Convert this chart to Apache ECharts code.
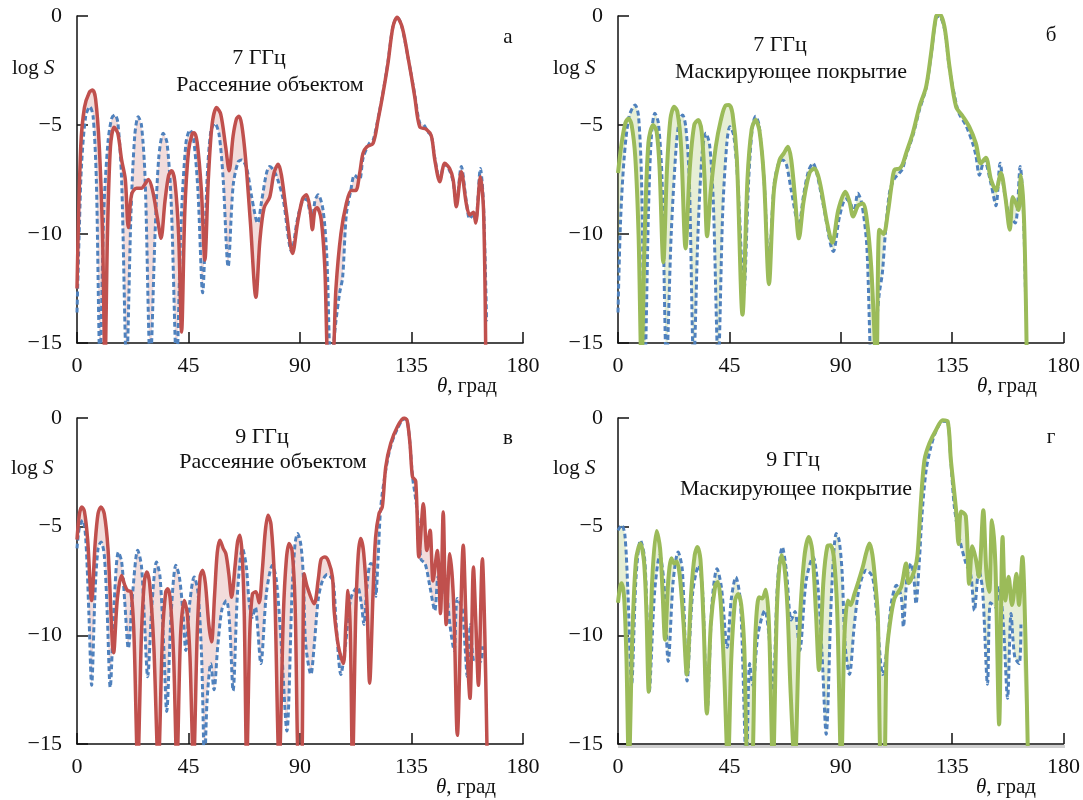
<!DOCTYPE html>
<html>
<head>
<meta charset="utf-8">
<script src="https://cdn.jsdelivr.net/npm/echarts@6/dist/echarts.min.js"></script>
<style>html,body{margin:0;padding:0;background:#fff}#c{width:1083px;height:800px}</style>
</head>
<body>
<div id="c"></div>
<script>
// ---- data: [theta (deg), log S] ----
const xTicks = [0, 45, 90, 135, 180];
const yTicks = [-15, -10, -5, 0];

// panel а : 7 GHz, scattering by object
const aBlue = [[0,-13.6],[1,-9.5],[1.8,-6.9],[3.5,-4.6],[5.2,-4.16],[6.5,-4.6],[7.8,-7.5],[9.3,-16],[10.8,-9],[12.5,-5.8],[14,-4.7],[15.3,-4.54],[16.5,-4.9],[18,-7.5],[20,-16],[21.8,-9],[23.3,-5.5],[24.7,-4.62],[26,-5.0],[27.5,-7.5],[29.6,-16],[31.5,-10],[33,-6.5],[34.8,-5.38],[36.3,-5.8],[38,-8.5],[40.2,-16],[42,-9.5],[44,-5.8],[45.6,-5.23],[47,-5.6],[48.8,-8],[50.7,-12.7],[52.5,-7.5],[54,-5.3],[55.6,-4.92],[57.3,-5.4],[59,-7.5],[61,-11.5],[63,-7.8],[65,-6.7],[66.5,-6.6],[68.5,-7],[70.5,-8.3],[72.9,-9.5],[74.5,-8.5],[76.5,-7.2],[77.8,-6.9],[79.5,-7.1],[81,-7.5],[83.2,-8.4],[86.6,-10.8],[89,-9.3],[91,-8.5],[92.6,-8.4],[94,-9],[95,-9.4],[96,-8.5],[97.3,-8.2],[99.3,-8.9],[100.8,-11],[102.5,-16],[104.5,-14],[106,-12.7],[107.2,-12],[108.7,-9.1],[110.5,-8],[112,-7.3],[114,-7.5],[115.5,-6.5],[118,-5.84],[119.5,-5.7],[121.5,-4.7],[123.5,-3.5],[125.5,-2.1],[127.5,-0.5],[129.2,-0.06],[130.9,-0.4],[133.6,-1.9],[136.3,-3.6],[138.3,-4.9],[140,-5.0],[141.5,-5.3],[143,-5.5],[144.4,-6.5],[146.4,-7.5],[148.4,-6.8],[150.4,-7.1],[151.8,-7.6],[153.1,-8.6],[155.1,-6.9],[157.1,-8.5],[158.5,-9.3],[160,-9.1],[160.9,-9.4],[162.8,-7.0],[164,-8.5],[165.3,-14]];
const aRed = [[0,-12.5],[1.5,-6],[3,-4.2],[5,-3.5],[6.3,-3.4],[7.5,-3.8],[9,-6],[10.3,-10],[11.3,-16],[12.3,-10],[13.5,-6],[15,-5.1],[16.5,-5.4],[18,-6.6],[19.5,-7.5],[20.7,-9.7],[22,-8.2],[24,-7.9],[26,-7.9],[27.5,-7.7],[28.8,-7.5],[30.5,-8],[32.5,-9.3],[33.9,-10.2],[35.5,-8.5],[37,-7.3],[38.2,-7.1],[39.5,-7.6],[41,-10],[42.2,-14.5],[43.5,-9],[45,-6.2],[46.5,-5.4],[47.3,-5.35],[48.5,-5.8],[50.2,-8],[51.6,-11.2],[53,-7.5],[54.5,-5],[56.3,-4.2],[58,-4.5],[60,-6],[61.4,-7.1],[63,-5.5],[64.4,-4.7],[65.4,-4.6],[66.5,-5],[68,-6.5],[70,-9.5],[72.2,-12.9],[73.8,-10.3],[75.5,-8.8],[77.8,-8.3],[79.5,-7.2],[81.2,-6.8],[82.5,-7.3],[84.5,-9],[87,-10.9],[89,-9.5],[91,-8.4],[92.6,-8.2],[94,-8.8],[95,-9.8],[96,-8.9],[96.9,-8.8],[98.5,-9.3],[100,-11.5],[101.5,-16],[103,-16],[104.5,-12.5],[106.5,-10],[108.7,-8.6],[110.7,-8],[112.5,-8],[114.1,-7.2],[115.4,-6.3],[117,-6],[119.5,-5.84],[121.5,-4.77],[123.5,-3.55],[125.5,-2.17],[127.5,-0.5],[129.2,-0.06],[130.9,-0.4],[132.2,-1],[133.6,-1.9],[135,-2.8],[136.3,-3.7],[138.3,-5.08],[141,-5.2],[143,-5.5],[144.4,-6.6],[146.4,-7.6],[148.4,-6.76],[150.4,-7.0],[151.8,-7.5],[153.1,-8.75],[155.1,-7.14],[157.1,-8.6],[158.5,-9.13],[160,-9.0],[160.9,-9.5],[162.8,-7.37],[164.1,-9],[165,-16]];

// panel б : 7 GHz, cloaking coating
const bBlue = [[0,-13.6],[1,-9.5],[2.5,-6.5],[4.5,-4.6],[6.9,-4.08],[8.3,-4.6],[9.5,-7.5],[10.9,-16],[12.3,-9],[13.5,-5.5],[14.9,-4.46],[16.3,-4.9],[17.8,-7.5],[19.6,-16],[21.5,-10],[23.5,-6],[24.8,-4.8],[26.1,-4.54],[27.4,-5.1],[28.8,-7.5],[30.6,-16],[32.3,-10],[34,-6.3],[35.5,-5.38],[37,-5.9],[38.5,-8.5],[40.5,-16],[42.3,-9],[44,-5.8],[45.2,-5.08],[46.8,-5.5],[48.6,-8],[50.8,-12.7],[52.8,-7.5],[54.3,-5.1],[55.6,-4.6],[57,-5],[59,-7.5],[61,-11.5],[63,-7.8],[65,-6.7],[66.5,-6.6],[68,-6.8],[70,-8],[73,-9.6],[75,-8.2],[77,-7.1],[78.8,-6.76],[80.5,-7.3],[83,-8.7],[87,-10.8],[89.5,-9.2],[92,-8.4],[94,-8.6],[95.3,-9.1],[96.9,-8.13],[98.5,-8.6],[100.5,-10.5],[102.5,-16],[104.5,-14],[105.6,-12.7],[106.8,-11.8],[108,-10],[109.7,-8.1],[111.5,-7.5],[113.7,-7.2],[115,-7.0],[116.4,-6.4],[119.1,-5.5],[121.8,-4.3],[124.5,-3.3],[126.5,-1.8],[128.5,-0.1],[129.8,0.0],[131.9,-0.6],[133.9,-2.4],[136.6,-4.0],[137.9,-4.5],[140.5,-5.0],[143.3,-5.84],[144.6,-6.4],[146,-7.3],[148,-6.6],[150.7,-7.7],[152.7,-8.7],[154.4,-6.76],[156,-8.0],[157.8,-9.0],[160.5,-9.5],[162.5,-6.9],[163.8,-9],[164.8,-13.6]];
const bGreen = [[0,-7.2],[1.5,-5.8],[3,-4.9],[4.2,-4.7],[5.5,-5.0],[7,-6.5],[8.3,-10],[9.5,-16],[10.8,-10],[12.3,-5.8],[14.2,-5.0],[15.6,-5.3],[16.8,-7],[18.3,-11.3],[19.8,-7],[21.2,-4.7],[22.7,-4.16],[24,-4.4],[25.5,-6],[27.3,-10.66],[29,-7],[30.8,-5],[32.4,-4.77],[33.8,-5.3],[35,-7.5],[36,-10.1],[37.5,-8],[39.5,-6],[41.5,-4.8],[43.5,-4.1],[44.9,-4.08],[46.3,-4.5],[48,-6.5],[50.3,-13.7],[52.3,-7.5],[54,-5.2],[55.6,-4.77],[57.2,-5.3],[59,-7.5],[61,-12.3],[63,-8],[65.3,-6.6],[67,-6.3],[68.7,-6.0],[70,-6.6],[71.5,-8.3],[73.1,-10.2],[75,-8.5],[77.4,-7.2],[79.4,-7.0],[80.8,-7.3],[82.2,-8],[84.5,-9.5],[86.6,-10.4],[89,-8.9],[91.9,-8.06],[93.5,-8.5],[95,-9.2],[97,-8.7],[98.9,-8.6],[100.5,-9.3],[102.3,-11.5],[104.4,-16],[105.6,-9.8],[107.3,-10.0],[109,-9.05],[110.5,-7.8],[111.7,-7.06],[113.7,-7.0],[115,-6.8],[116.4,-6.3],[119.1,-5.38],[121.8,-4.16],[124.5,-3.24],[126.5,-1.71],[128.5,-0.03],[129.8,0.1],[131.9,-0.49],[133.9,-2.3],[136.6,-4.16],[139.3,-4.6],[141.9,-5.08],[144.6,-5.84],[146.6,-6.76],[148.6,-6.5],[150.7,-7.5],[152.7,-8.0],[154.7,-7.2],[156.5,-8.3],[158.3,-9.8],[159.5,-8.3],[160.8,-8.6],[161.8,-8.9],[162.8,-7.3],[164.1,-9.5],[165.2,-16]];

// panel в : 9 GHz, scattering by object
const cBlue = [[0,-6.0],[1,-5.0],[2.3,-4.7],[3.5,-5.5],[4.8,-9],[5.9,-12.3],[7.3,-8],[8.5,-6],[9.7,-5.7],[11,-6.3],[12.2,-9],[13.4,-12.4],[15,-8.5],[16.7,-6.17],[18,-6.6],[19.3,-8.5],[20.7,-10.6],[22.5,-8],[24.5,-6.09],[26,-6.8],[27.3,-9.5],[28.5,-11.9],[30.3,-8.5],[32.1,-6.63],[33.5,-7.3],[35,-10.5],[36.2,-13.5],[38,-9],[39.9,-6.78],[41.3,-7.3],[42.8,-9],[43.9,-10.7],[45.5,-8.5],[47.3,-7.32],[48.8,-8],[50.3,-11],[51.5,-16],[52.5,-13],[54,-11.3],[55.3,-12.5],[56.8,-10.5],[58.5,-8.8],[60.3,-8.4],[61.6,-9.5],[63,-12.55],[64.8,-8],[66.8,-6.0],[68.3,-6.8],[69.5,-8.5],[70.8,-9.17],[72,-8.7],[72.8,-9.5],[74.2,-11.3],[76.5,-8],[78.9,-6.78],[80.5,-7.5],[82.5,-10.5],[84.7,-14.4],[86.8,-8],[88,-5.8],[89,-5.32],[90.3,-5.8],[91.3,-7.2],[92.3,-10.4],[94.4,-11.8],[95.7,-10.5],[97.4,-8.3],[99.1,-7.48],[101,-7.2],[103.3,-7.5],[104.6,-9.5],[106.5,-11.8],[108.3,-10.5],[110.5,-8.3],[113.2,-7.78],[114.7,-8.5],[115.8,-9.5],[117,-7.8],[118.5,-6.7],[119.8,-6.8],[120.6,-8.2],[121.5,-6.5],[122.6,-4.09],[124.6,-2.4],[126.6,-1.3],[129.3,-0.5],[132,-0.05],[133.2,-0.1],[134.4,-1.2],[135.4,-2.7],[136.4,-3.5],[137.4,-4.4],[138.8,-6.5],[140.5,-6.7],[142.5,-7.8],[144.4,-8.86],[145.7,-7.3],[147,-8.2],[148.3,-7.2],[150.5,-9.5],[152.2,-10.7],[153.5,-8.3],[155.5,-8.8],[156.6,-10.5],[157.5,-11.9],[158.8,-9.5],[160.3,-11.2],[162.9,-11.2],[163.7,-10.5]];
const cRed = [[0,-5.6],[1,-4.4],[2,-4.09],[3,-4.3],[4.3,-5.6],[5.9,-8.4],[7.3,-5.8],[8.5,-4.4],[9.7,-4.09],[11,-4.4],[12.5,-6],[14.8,-10.8],[16.3,-8.3],[18,-7.25],[19.3,-7.7],[20.4,-7.94],[21.8,-8.0],[23,-10],[24.5,-16],[26,-10],[27.2,-7.5],[28.2,-7.09],[29.3,-7.6],[31,-10.5],[32.8,-16],[34.5,-10],[35.8,-8],[36.6,-7.86],[37.6,-8.3],[39,-11],[40.3,-16],[41.8,-10],[43.3,-8.4],[44.5,-9],[45.6,-11],[47,-16],[48.5,-10],[49.7,-7.3],[50.7,-7.0],[51.8,-7.6],[53.2,-9.5],[54.3,-10.3],[55.5,-8.2],[56.6,-6.2],[57.7,-5.63],[59,-6.0],[60.1,-6.25],[61.3,-7.2],[62.4,-8.25],[63.8,-6.8],[64.8,-5.7],[65.7,-5.4],[66.6,-6.2],[67.5,-9],[68.5,-16],[69.7,-10],[70.8,-8.1],[72.2,-8.0],[73.5,-8.5],[74.8,-7],[76,-5.2],[77.1,-4.48],[78.3,-4.9],[79.7,-7.5],[81.6,-16],[83.3,-9],[84.5,-6.5],[85.6,-5.78],[86.8,-6.1],[88,-8.5],[89.5,-16],[90.6,-16],[91.7,-7.17],[93,-7.8],[95.7,-8.55],[97.4,-7.4],[98.5,-6.5],[100,-6.4],[101.5,-6.6],[103.1,-7.32],[103.8,-8.9],[105.5,-10.5],[107.5,-11.3],[108.5,-9.5],[109.4,-7.94],[110.3,-9.8],[111.2,-16],[112.5,-9],[113.5,-6.3],[114.5,-5.55],[115.7,-6.2],[117,-8.5],[118.1,-12.2],[119.5,-8],[120.5,-5.5],[121.9,-4.4],[123.2,-4.1],[124.6,-2.25],[126.6,-1.17],[129.3,-0.4],[132,0],[133.2,-0.1],[134.4,-1.2],[135.4,-2.7],[136.7,-2.9],[138,-6.4],[139.8,-3.94],[141.2,-6.1],[142.5,-5.17],[143.7,-7.5],[145.4,-6.1],[146.7,-9],[147.8,-4.32],[149,-9.5],[150.5,-6.25],[152,-8.5],[153.5,-14.6],[155.9,-5.86],[157.2,-10],[158.6,-12.9],[160,-6.86],[161,-9.5],[162,-12.3],[163.6,-6.48],[164.6,-10],[165.6,-16]];

// panel г : 9 GHz, cloaking coating
const dBlue = [[0,-5.17],[1.5,-4.92],[2.8,-5.4],[4,-8],[5.5,-12.25],[7.3,-7.3],[9.1,-5.63],[10.7,-6.4],[11.7,-9],[12.6,-12.6],[14.8,-8],[16.9,-6.32],[18.5,-7.5],[20.3,-11.2],[22.3,-7.5],[24.3,-6.17],[26,-7],[27.9,-12.1],[30.2,-8],[32.6,-6.78],[34.2,-8],[36,-13.5],[38,-8.5],[40,-6.94],[41.8,-7.8],[44.1,-10.55],[45.8,-8.3],[47.6,-7.32],[49.5,-8.5],[51.9,-16],[53.2,-11.3],[54.5,-12.3],[56.5,-10],[59.3,-8.86],[61,-10],[62.6,-12.55],[64.5,-7.5],[66.4,-5.94],[68,-7],[70,-9.3],[71.5,-8.9],[73.4,-10.7],[76,-7.5],[78.8,-6.4],[80.8,-7.8],[82.5,-11],[84.1,-14.55],[86.3,-8],[88.2,-5.32],[89.3,-5.6],[90.5,-7],[91.8,-10.5],[93.5,-11.8],[95.5,-9.5],[97.5,-7.8],[100.3,-7.0],[102.8,-7.3],[104.5,-9],[107,-11.8],[108.8,-10.5],[110.4,-8.55],[112.5,-7.7],[114.4,-8.2],[115.3,-9.6],[116.8,-7.3],[118.4,-6.7],[119.5,-7.3],[120.4,-8.55],[121.8,-6.5],[122.8,-4.5],[124.5,-2.4],[126.5,-1.3],[128.5,-0.6],[131.2,-0.15],[133.2,-0.2],[134.5,-2],[135.9,-4.09],[137.9,-5.5],[140.6,-6.7],[142.5,-7.2],[144,-8.86],[145.8,-7.0],[147.3,-7.9],[149.3,-12.25],[150.5,-8.5],[152.5,-8.7],[154,-7.8],[155.7,-9.5],[157.4,-12.9],[158.8,-9],[160.3,-11],[162.1,-11.3],[162.8,-9.5]];
const dGreen = [[0,-8.5],[0.8,-7.8],[1.5,-7.6],[2.5,-8.3],[3.4,-11],[4.4,-16],[5.8,-10],[7.3,-6.5],[9,-5.78],[10.5,-6.6],[11.5,-9],[12.4,-12.6],[13.8,-7.5],[15.6,-5.2],[17,-6],[18,-8],[19,-10.2],[20.3,-7.5],[21.6,-6.45],[22.7,-6.7],[23.7,-6.6],[25,-7.3],[26.5,-9.5],[27.8,-11.8],[29.6,-8],[31,-6.3],[32.1,-5.94],[33.3,-6.5],[34.6,-9.5],[35.9,-13.6],[37.5,-9.5],[39.3,-7.7],[40.3,-7.55],[41.5,-8.5],[43,-12],[44.4,-16],[45.8,-11],[47.3,-8.4],[48.5,-8.1],[49.8,-8.6],[51,-10.5],[52.5,-16],[54,-16],[55.5,-10],[57,-8.25],[58.3,-8.3],[59.7,-7.9],[61,-9.5],[62.6,-16],[64.3,-8.5],[66,-6.32],[67.2,-6.8],[68.5,-8.8],[69.7,-12.5],[71.4,-16],[73.2,-10],[75.2,-6.5],[77.1,-5.48],[78.5,-6.1],[80,-9],[81.2,-11.6],[83,-7.5],[84.6,-5.9],[85.9,-5.86],[87.3,-6.5],[88.6,-9],[90.2,-16],[91.5,-10],[92.9,-8.4],[94,-8.6],[95.5,-8.1],[97.2,-7.5],[98.9,-6.86],[100.3,-6.2],[101.6,-5.78],[102.8,-6.3],[104,-7.6],[105,-9.17],[106.3,-16],[107.5,-16],[108.5,-11],[109.7,-9.6],[111.7,-8.3],[114.4,-7.78],[116.4,-6.7],[117.5,-7.6],[119.8,-7.0],[121,-6.3],[122.3,-4],[123.8,-1.94],[125.8,-1.17],[128.5,-0.55],[131.2,-0.1],[133.2,-0.15],[134.5,-1.94],[136.6,-4.25],[137.6,-5.8],[138.6,-4.3],[140.5,-4.5],[141.9,-7.63],[143.2,-5.9],[144.6,-6.5],[145.8,-7.3],[147.6,-4.25],[148.8,-7.0],[150,-8],[151.1,-4.7],[152.5,-6.8],[154,-14.1],[155.4,-5.48],[156.5,-8.4],[157.8,-7.3],[159.2,-8.6],[161,-7.17],[162,-8.6],[163.4,-6.4],[164.6,-10],[165.7,-16]];

const panelLetters = ['а', 'б', 'в', 'г'];
const freqLabels = ['7 ГГц', '7 ГГц', '9 ГГц', '9 ГГц'];
const caseLabels = ['Рассеяние объектом', 'Маскирующее покрытие', 'Рассеяние объектом', 'Маскирующее покрытие'];

// ---- layout ----
const FONT = '"Liberation Serif", "Times New Roman", serif';
const grids = [
  {left: 77, top: 16, width: 446, height: 327},
  {left: 618, top: 16, width: 447, height: 327},
  {left: 77, top: 418, width: 446, height: 326},
  {left: 618, top: 418, width: 447, height: 326}
];
const BLUE = '#4f81bd', RED = '#c0504d', GREEN = '#9bbb59';
const panels = [
  {blue: aBlue, main: aRed, color: RED, width: 3.5, fill: 'rgba(192,80,77,0.20)'},
  {blue: bBlue, main: bGreen, color: GREEN, width: 4, fill: 'rgba(155,187,89,0.25)'},
  {blue: cBlue, main: cRed, color: RED, width: 3.5, fill: 'rgba(192,80,77,0.20)'},
  {blue: dBlue, main: dGreen, color: GREEN, width: 4, fill: 'rgba(155,187,89,0.25)'}
];

const axisLineStyle = {color: '#111', width: 1.5};
const xAxes = grids.map((g, i) => ({
  type: 'value', gridIndex: i, min: xTicks[0], max: xTicks[xTicks.length - 1], interval: 45,
  axisLine: {show: true, onZero: false, lineStyle: axisLineStyle},
  axisTick: {show: true, inside: true, length: 11, lineStyle: axisLineStyle},
  axisLabel: {fontFamily: FONT, fontSize: 22, color: '#111', margin: 12},
  splitLine: {show: false}
}));
const yAxes = grids.map((g, i) => ({
  type: 'value', gridIndex: i, min: yTicks[0], max: yTicks[yTicks.length - 1], interval: 5,
  axisLine: {show: true, onZero: false, lineStyle: axisLineStyle},
  axisTick: {show: true, inside: true, length: 11, lineStyle: axisLineStyle},
  axisLabel: {fontFamily: FONT, fontSize: 22, color: '#111', margin: 15,
    formatter: v => v < 0 ? '\u2212' + Math.abs(v) : String(v)},
  splitLine: {show: false}
}));

const series = [];
panels.forEach((p, i) => {
  series.push({
    type: 'custom', xAxisIndex: i, yAxisIndex: i, clip: true, silent: true, z: 1,
    data: [[0, 0]],
    renderItem: function (params, api) {
      const pts = p.main.map(d => api.coord(d)).concat(p.blue.slice().reverse().map(d => api.coord(d)));
      return {type: 'polygon', shape: {points: pts, smooth: 0.25}, style: {fill: p.fill}};
    }
  });
  series.push({
    type: 'line', xAxisIndex: i, yAxisIndex: i, data: p.blue, showSymbol: false, smooth: 0.3,
    clip: true, z: 2, silent: true,
    lineStyle: {color: BLUE, width: 3, type: [5, 3]}
  });
  series.push({
    type: 'line', xAxisIndex: i, yAxisIndex: i, data: p.main, showSymbol: false, smooth: 0.3,
    clip: true, z: 3, silent: true,
    lineStyle: {color: p.color, width: p.width}
  });
});

function txt(x, y, text, size, align, rich) {
  const s = {text: text, x: 0, y: 0, fontFamily: FONT, fontSize: size, fill: '#111',
    align: align || 'center', verticalAlign: 'middle'};
  if (rich) s.rich = rich;
  return {type: 'text', x: x, y: y, style: s, z: 10};
}
const richLog = {i: {fontFamily: FONT, fontSize: 21, fontStyle: 'italic', fill: '#111'}};
const graphics = [];
const letterPos = [[508, 37], [1051, 35], [508, 438], [1051, 437]];
const freqPos = [[259, 58], [780, 45], [262, 437], [793, 460]];
const casePos = [[270, 85], [791, 72], [273, 462], [796, 489]];
const logPos = [[12, 68], [553, 68], [11, 468], [553, 468]];
const thetaPos = [[467, 386], [1007, 386], [466, 787], [1006, 787]];
for (let i = 0; i < 4; i++) {
  graphics.push(txt(letterPos[i][0], letterPos[i][1], panelLetters[i], 21));
  graphics.push(txt(freqPos[i][0], freqPos[i][1], freqLabels[i], 22));
  graphics.push(txt(casePos[i][0], casePos[i][1], caseLabels[i], 22));
  graphics.push(txt(logPos[i][0], logPos[i][1], 'log {i|S}', 21, 'left', richLog));
  graphics.push(txt(thetaPos[i][0], thetaPos[i][1], '{i|θ}, град', 21, 'center', richLog));
}
// faint grey band under the bottom axis of panel г (as in the scanned original)
graphics.push({type: 'rect', shape: {x: 618, y: 745, width: 447, height: 3}, style: {fill: '#cfcfcf'}, z: 0});

const chart = echarts.init(document.getElementById('c'), null, {renderer: 'canvas'});
chart.setOption({
  animation: false,
  backgroundColor: '#fff',
  grid: grids,
  xAxis: xAxes,
  yAxis: yAxes,
  series: series,
  graphic: graphics
});
</script>
</body>
</html>
